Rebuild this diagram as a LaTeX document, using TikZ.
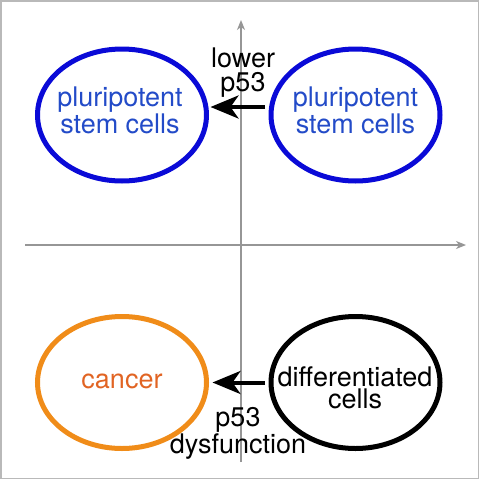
\documentclass[tikz,border=0pt]{standalone}
\usepackage{fontspec}
\setmainfont{TeX Gyre Heros}
\usetikzlibrary{shapes.geometric,arrows.meta}
\definecolor{ellblue}{RGB}{10,10,215}
\definecolor{txtblue}{RGB}{35,75,200}
\definecolor{ellorange}{RGB}{240,140,25}
\definecolor{txtorange}{RGB}{225,100,35}
\definecolor{axisgray}{RGB}{150,150,150}
\definecolor{framegray}{RGB}{185,185,185}
\tikzset{
  cell/.style={ellipse, draw, line width=5pt, minimum width=169pt, minimum height=132pt, inner sep=0pt, outer sep=0pt},
  txt/.style={anchor=base, inner sep=0pt, align=center, font=\fontsize{27pt}{22pt}\selectfont},
  axisline/.style={draw=axisgray, line width=1.2pt, -{Stealth[length=10pt,width=8pt,inset=3pt]}},
  bigarrow/.style={line width=4pt, -{Stealth[length=28pt,width=23pt,inset=8pt]}}
}
\begin{document}
\begin{tikzpicture}[x=1pt,y=-1pt]
\useasboundingbox (0,0) rectangle (480,480);
\draw[framegray, line width=1.5pt] (1,1) rectangle (478.5,478.5);
% axes
\coordinate (vb) at (241,462);
\coordinate (vt) at (241,20);
\coordinate (hl) at (25,245);
\coordinate (hr) at (466,245);
\draw[axisline] (vb) -- (vt);
\draw[axisline] (hl) -- (hr);
% ellipses
\node[cell, draw=ellblue] (psL) at (122,115) {};
\node[cell, draw=ellblue] (psR) at (355.5,115) {};
\node[cell, draw=ellorange] (can) at (122,382.5) {};
\node[cell, draw=black] (dif) at (355.5,382.5) {};
% texts (anchor base = baseline of last line)
\node[txt, text=txtblue] (psLt) at (120,133) {pluripotent\\stem cells};
\node[txt, text=txtblue] (psRt) at (355.5,133) {pluripotent\\stem cells};
\node[txt, text=txtorange] (canT) at (122,388) {cancer};
\node[txt] (dift) at (355,408) {differentiated\\cells};
\node[txt, font=\fontsize{27pt}{24pt}\selectfont] (lowt) at (243,91) {lower\\p53};
\node[txt] (dyst) at (238,453) {p53\\dysfunction};
% arrows
\draw[bigarrow, shorten <=6pt, shorten >=4pt] ([yshift=8pt]psR.west) -- ([yshift=8pt]psL.east);
\draw[bigarrow, shorten <=6pt, shorten >=6pt] (dif.west) -- (can.east);
\end{tikzpicture}
\end{document}
